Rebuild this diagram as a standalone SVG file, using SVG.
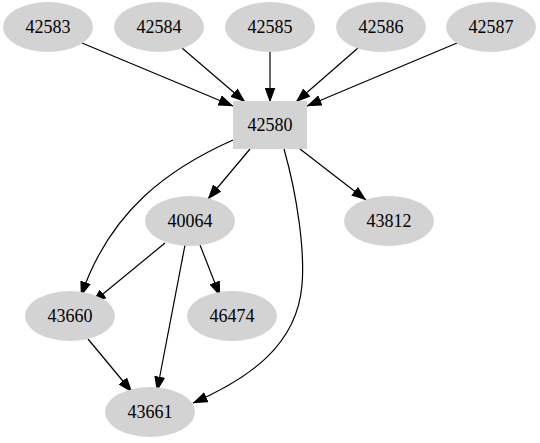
<svg xmlns="http://www.w3.org/2000/svg" width="540" height="443" viewBox="0 0 540 443">
<style>
.n ellipse, .n rect { fill: #d3d3d3; stroke: none; }
.n text { font-size: 18px; text-anchor: middle; fill: #000; }
.e path { fill: none; stroke: #000; stroke-width: 1.2; marker-end: url(#ah); }
</style>
<defs>
<marker id="ah" markerUnits="userSpaceOnUse" markerWidth="15" markerHeight="11" refX="14.5" refY="5.5" orient="auto">
<path d="M0,0 L15,5.5 L0,11 z" fill="#000"/>
</marker>
</defs>
<rect width="540" height="443" fill="#fff"/>
<g id="edges" class="e">
<path d="M82,43 L233,106"/>
<path d="M182,48 L245,102"/>
<path d="M270,52 L270,102"/>
<path d="M358,48 L296,102"/>
<path d="M457,43 L307,106"/>
<path d="M250,149 L208,199"/>
<path d="M300,149 L366,200"/>
<path d="M233,140 C170,168 110,210 81,296"/>
<path d="M284,149 C297,195 305,250 302,285 C297,345 250,378 193,403"/>
<path d="M165,243 L92,303"/>
<path d="M185,245 L157,391"/>
<path d="M200,245 L220,296"/>
<path d="M88,339 L132,392"/>
</g>
<g font-family="Liberation Serif, serif">
<g id="n42583" class="n"><ellipse cx="48" cy="27" rx="45" ry="25"/><text x="48" y="33">42583</text></g>
<g id="n42584" class="n"><ellipse cx="159" cy="27" rx="45" ry="25"/><text x="159" y="33">42584</text></g>
<g id="n42585" class="n"><ellipse cx="270" cy="27" rx="45" ry="25"/><text x="270" y="33">42585</text></g>
<g id="n42586" class="n"><ellipse cx="381" cy="27" rx="45" ry="25"/><text x="381" y="33">42586</text></g>
<g id="n42587" class="n"><ellipse cx="491" cy="27" rx="45" ry="25"/><text x="491" y="33">42587</text></g>
<g id="n42580" class="n"><rect x="233" y="101" width="74" height="48"/><text x="270" y="131">42580</text></g>
<g id="n40064" class="n"><ellipse cx="190" cy="221" rx="45" ry="25"/><text x="190" y="227">40064</text></g>
<g id="n43812" class="n"><ellipse cx="389" cy="221" rx="45" ry="25"/><text x="389" y="227">43812</text></g>
<g id="n43660" class="n"><ellipse cx="70" cy="316" rx="45" ry="25"/><text x="70" y="322">43660</text></g>
<g id="n46474" class="n"><ellipse cx="232" cy="316" rx="45" ry="25"/><text x="232" y="322">46474</text></g>
<g id="n43661" class="n"><ellipse cx="150" cy="412" rx="45" ry="25"/><text x="150" y="418">43661</text></g>
</g>
</svg>
